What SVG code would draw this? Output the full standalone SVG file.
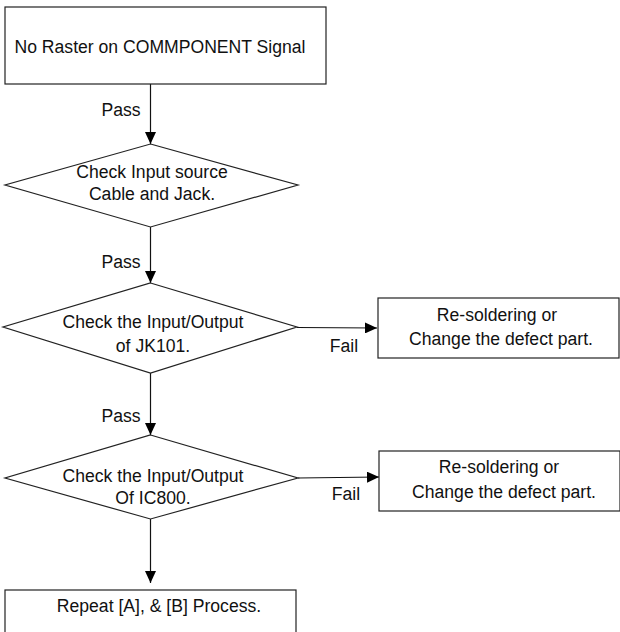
<svg xmlns="http://www.w3.org/2000/svg" width="620" height="632" viewBox="0 0 620 632">
<defs>
<style>
.box{fill:#fff;stroke:#222;stroke-width:1.2}
.t{font-family:"Liberation Sans",Arial,sans-serif;font-size:17.6px;fill:#111;text-anchor:middle}
.ln{stroke:#111;stroke-width:1.2;fill:none}
</style>
<marker id="ah" viewBox="0 0 12 11" refX="12" refY="5.5" markerWidth="12" markerHeight="11" markerUnits="userSpaceOnUse" orient="auto">
<path d="M0,0 L12,5.5 L0,11 Z" fill="#000"/>
</marker>
</defs>
<rect width="620" height="632" fill="#fff"/>
<g id="connectors">
<line class="ln" x1="150.5" y1="84" x2="150.5" y2="144" marker-end="url(#ah)"/>
<line class="ln" x1="150.5" y1="227" x2="150.5" y2="283" marker-end="url(#ah)"/>
<line class="ln" x1="150.5" y1="373" x2="150.5" y2="435" marker-end="url(#ah)"/>
<line class="ln" x1="150.5" y1="519" x2="150.5" y2="583" marker-end="url(#ah)"/>
<line class="ln" x1="297" y1="327.5" x2="377" y2="328" marker-end="url(#ah)"/>
<line class="ln" x1="298" y1="478" x2="379" y2="477" marker-end="url(#ah)"/>
<text class="t" x="121" y="116">Pass</text>
<text class="t" x="121" y="268">Pass</text>
<text class="t" x="121" y="422">Pass</text>
<text class="t" x="344" y="352">Fail</text>
<text class="t" x="346" y="500">Fail</text>
</g>
<g id="start">
<rect class="box" x="5" y="7" width="321" height="77"/>
<text class="t" x="160" y="53">No Raster on COMMPONENT Signal</text>
</g>
<g id="check-input">
<polygon class="box" points="150.5,144 298,185 150.5,227 5,185"/>
<text class="t" x="152" y="178">Check Input source</text>
<text class="t" x="152" y="200">Cable and Jack.</text>
</g>
<g id="check-jk101">
<polygon class="box" points="150.5,283 297,327 150.5,373 3,327"/>
<text class="t" x="153" y="328">Check the Input/Output</text>
<text class="t" x="153" y="352">of JK101.</text>
</g>
<g id="fail-box-1">
<rect class="box" x="378" y="298" width="241" height="60"/>
<text class="t" x="497" y="321">Re-soldering or</text>
<text class="t" x="501" y="345">Change the defect part.</text>
</g>
<g id="check-ic800">
<polygon class="box" points="150.5,435 298,478 150.5,519 5,478"/>
<text class="t" x="153" y="482">Check the Input/Output</text>
<text class="t" x="153" y="504">Of IC800.</text>
</g>
<g id="fail-box-2">
<rect class="box" x="379" y="451" width="241" height="60"/>
<text class="t" x="499" y="473">Re-soldering or</text>
<text class="t" x="504" y="498">Change the defect part.</text>
</g>
<g id="repeat">
<rect class="box" x="5" y="590" width="291" height="60"/>
<text class="t" x="159" y="612">Repeat [A], &amp; [B] Process.</text>
</g>
</svg>
